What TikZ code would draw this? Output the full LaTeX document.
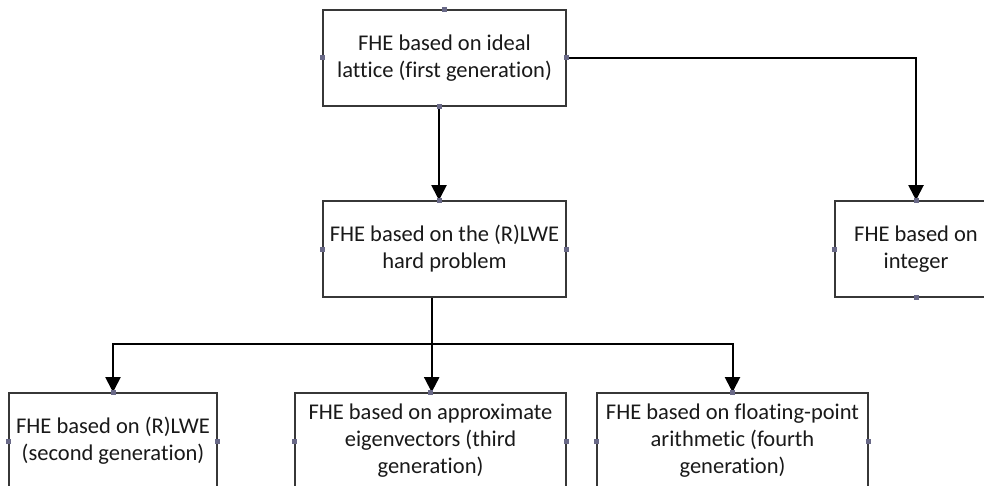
\documentclass[tikz,border=0pt]{standalone}
\usepackage{fontspec}
\setmainfont[Ligatures={NoCommon}]{Carlito}
\usetikzlibrary{arrows.meta}
\definecolor{boxline}{RGB}{55,55,55}
\definecolor{handlecol}{RGB}{105,105,135}
\begin{document}
\begin{tikzpicture}[x=1pt,y=-1pt,
  box/.style={draw=boxline, line width=1.6pt, fill=white, align=center,
    minimum height=96pt, inner sep=2pt,
    font=\fontsize{22.5}{27}\selectfont, text=black!90},
  conn/.style={draw=black, line width=2pt},
  arr/.style={conn, -{Triangle[length=15pt,width=15pt]}},
  hsq/.style={fill=handlecol}]
\useasboundingbox (0,0) rectangle (984,486);
\clip (0,0) rectangle (984,486);
\fill[white] (0,0) rectangle (984,486);

\node[box, minimum width=243pt] (top) at (444.5,58) {FHE based on ideal\\lattice (first generation)};
\node[box, minimum width=243pt] (mid) at (444.5,249) {FHE based on the (R)LWE\\hard problem};
\node[box, minimum width=162pt] (right) at (916,249) {FHE based on\\integer};
\node[box, minimum width=208pt] (b1) at (113,441) {FHE based on (R)LWE\\(second generation)};
\node[box, minimum width=271pt] (b2) at (430.5,441) {FHE based on approximate\\eigenvectors (third\\generation)};
\node[box, minimum width=271pt] (b3) at (732.5,441) {FHE based on floating-point\\arithmetic (fourth\\generation)};

\coordinate (br) at (431.7,344);

\draw[arr] ([xshift=-5.5pt]top.south) -- ([xshift=-5.5pt]top.south |- mid.north);
\draw[arr] (top.east) -| (right.north);
\draw[conn] (br |- mid.south) -- (br);
\draw[arr] (br) -| (b1.north);
\draw[arr] (br) -- (br |- b2.north);
\draw[arr] (br) -| (b3.north);

\foreach \p in {top.north, top.west, top.east, mid.west, mid.east,
  right.west, right.north, right.south,
  b1.north, b1.west, b1.east, b2.north, b2.west, b2.east,
  b3.north, b3.west, b3.east}
  \fill[hsq] ([shift={(-2.5,-2.5)}]\p) rectangle ++(5,5);
\fill[hsq] ([shift={(-8,-2.5)}]top.south) rectangle ++(5,5);
\fill[hsq] ([shift={(-8,-2.5)}]mid.north) rectangle ++(5,5);
\end{tikzpicture}
\end{document}
